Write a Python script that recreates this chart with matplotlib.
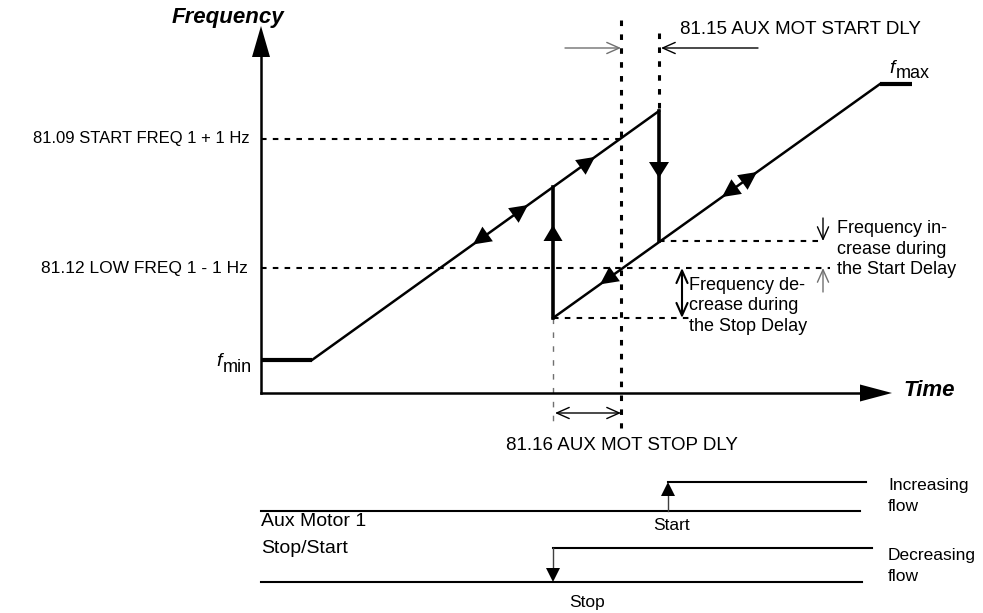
import numpy as np
import matplotlib
import matplotlib.pyplot as plt
from matplotlib.patches import Polygon

plt.rcParams['font.family'] = ['Liberation Sans', 'DejaVu Sans']
plt.rcParams['lines.scale_dashes'] = False

# frequency trace (page units: time to the right, frequency measured downward on the page)
fmin_t, fmin_f = [261, 312], [360, 360]
ramp_up_t, ramp_up_f = [312, 659], [360, 111]
jump_up_t, jump_up_f = [553, 553], [318, 187]
jump_down_t, jump_down_f = [659, 659], [111, 241]
ramp_down_t, ramp_down_f = [553, 880], [318, 84]
fmax_t, fmax_f = [880, 912], [84, 84]

# reference levels and delay instants
start_freq_level = 139
low_freq_level = 268
stop_drop_level = 318
start_rise_level = 241
t_stop = 553
t_delay = 621
t_start = 659

# direction arrows on the trace: (time, sign) with sign +1 = rising, -1 = falling
up_ramp_arrows = [(473, -1), (528, 1), (595, 1)]
down_ramp_arrows = [(600, -1), (722, -1), (757, 1)]

# aux motor signals
start_base, start_high = 511, 482
stop_high, stop_base = 548, 582
t_start_signal = 668

fig = plt.figure(figsize=(9.83, 6.13), dpi=100)
ax = fig.add_axes([0, 0, 1, 1])
ax.set_xlim(0, 983)
ax.set_ylim(613, 0)
ax.axis('off')


def head(tip, d, length=18, width=18, color='black'):
    tip = np.array(tip, float)
    d = np.array(d, float)
    d = d / np.hypot(*d)
    n = np.array([-d[1], d[0]])
    base = tip - d * length
    ax.add_patch(Polygon([tip, base + n * width / 2, base - n * width / 2],
                         closed=True, color=color, lw=0, zorder=5))


def interp(t, ts, fs):
    return fs[0] + (fs[1] - fs[0]) * (t - ts[0]) / (ts[1] - ts[0])


def thin_arrow(tail, tip, style='->', color='black', lw=1.0):
    ax.annotate('', xy=tip, xytext=tail,
                arrowprops=dict(arrowstyle=style + ',head_length=0.9,head_width=0.4',
                                color=color, lw=lw, mutation_scale=10,
                                shrinkA=0, shrinkB=0))


dash = dict(color='black', lw=1.5, dashes=(4, 4.5))

# dashed reference lines
ax.plot([261, t_delay], [start_freq_level] * 2, **dash)
ax.plot([261, 830], [low_freq_level] * 2, **dash)
ax.plot([t_start, 820], [start_rise_level] * 2, **dash)
ax.plot([t_stop, 690], [stop_drop_level] * 2, **dash)
ax.plot([t_delay, t_delay], [20, 428], color='black', lw=2.2, dashes=(4, 6))
ax.plot([t_start, t_start], [33, 111], color='black', lw=2.2, dashes=(4, 6))
ax.plot([t_stop, t_stop], [318, 428], color='#707070', lw=1.0, dashes=(4, 6))

# axes
ax.plot([261, 261], [393, 50], color='black', lw=1.8)
ax.plot([261, 862], [393, 393], color='black', lw=1.8)
head((261, 26), (0, -1), length=31, width=18)
head((892, 393), (1, 0), length=32, width=17)

# frequency trace
ax.plot(fmin_t, fmin_f, color='black', lw=3.0, solid_capstyle='butt')
ax.plot(fmax_t, fmax_f, color='black', lw=3.0, solid_capstyle='butt')
ax.plot(ramp_up_t, ramp_up_f, color='black', lw=1.8)
ax.plot(ramp_down_t, ramp_down_f, color='black', lw=1.8)
ax.plot(jump_up_t, jump_up_f, color='black', lw=2.6)
ax.plot(jump_down_t, jump_down_f, color='black', lw=2.6)

up_dir = (ramp_up_t[1] - ramp_up_t[0], ramp_up_f[1] - ramp_up_f[0])
for t, s in up_ramp_arrows:
    head((t, interp(t, ramp_up_t, ramp_up_f)), (s * up_dir[0], s * up_dir[1]))
down_dir = (ramp_down_t[1] - ramp_down_t[0], ramp_down_f[1] - ramp_down_f[0])
for t, s in down_ramp_arrows:
    head((t, interp(t, ramp_down_t, ramp_down_f)), (s * down_dir[0], s * down_dir[1]))
head((t_stop, 225), (0, -1), length=16, width=19)
head((t_start, 178), (0, 1), length=16, width=20)

# delay annotations
thin_arrow((565, 48), (t_delay, 48), color='#707070')
thin_arrow((758, 48), (t_start + 2, 48))
thin_arrow((555, 413), (t_delay, 413), style='<->')
thin_arrow((823, 218), (823, start_rise_level))
thin_arrow((823, 292), (823, low_freq_level), color='#707070')
thin_arrow((682, stop_drop_level), (682, low_freq_level), style='<->', lw=1.5)

ax.text(284, 17, 'Frequency', ha='right', va='center', fontsize=16,
        fontweight='bold', style='italic')
ax.text(903, 391, 'Time', ha='left', va='center', fontsize=16,
        fontweight='bold', style='italic')
ax.text(250, start_freq_level, '81.09 START FREQ 1 + 1 Hz', ha='right', va='center', fontsize=12)
ax.text(248, low_freq_level, '81.12 LOW FREQ 1 - 1 Hz', ha='right', va='center', fontsize=12.5)
ax.text(222, 366, 'f', ha='right', va='baseline', fontsize=14, style='italic')
ax.text(223, 372, 'min', ha='left', va='baseline', fontsize=13)
ax.text(895, 73, 'f', ha='right', va='baseline', fontsize=14, style='italic')
ax.text(896, 78, 'max', ha='left', va='baseline', fontsize=13)
ax.text(680, 30, '81.15 AUX MOT START DLY', ha='left', va='center', fontsize=13.5)
ax.text(622, 446, '81.16 AUX MOT STOP DLY', ha='center', va='center', fontsize=13.5)
ax.text(837, 249, 'Frequency in-\ncrease during\nthe Start Delay', ha='left',
        va='center', fontsize=13, linespacing=1.25)
ax.text(689, 306, 'Frequency de-\ncrease during\nthe Stop Delay', ha='left',
        va='center', fontsize=13, linespacing=1.25)

# aux motor stop/start signals
ax.plot([261, 860], [start_base] * 2, color='black', lw=1.5)
ax.plot([t_start_signal, 866], [start_high] * 2, color='black', lw=1.5)
ax.plot([t_start_signal, t_start_signal], [start_base, start_high + 10], color='#404040', lw=1.0)
head((t_start_signal, start_high), (0, -1), length=14, width=14)
ax.plot([t_stop, 872], [stop_high] * 2, color='black', lw=1.5)
ax.plot([t_stop, t_stop], [stop_high, stop_base - 10], color='#404040', lw=1.0)
ax.plot([261, 862], [stop_base] * 2, color='black', lw=1.5)
head((t_stop, stop_base), (0, 1), length=14, width=14)

ax.text(261, 535, 'Aux Motor 1\nStop/Start', ha='left', va='center', fontsize=14,
        linespacing=1.8)
ax.text(672, 525, 'Start', ha='center', va='center', fontsize=12.5)
ax.text(587, 603, 'Stop', ha='center', va='center', fontsize=12.5)
ax.text(888, 496, 'Increasing\nflow', ha='left', va='center', fontsize=12.5, linespacing=1.5)
ax.text(888, 566, 'Decreasing\nflow', ha='left', va='center', fontsize=12.5, linespacing=1.5)

fig.savefig('out.png', dpi=100)
